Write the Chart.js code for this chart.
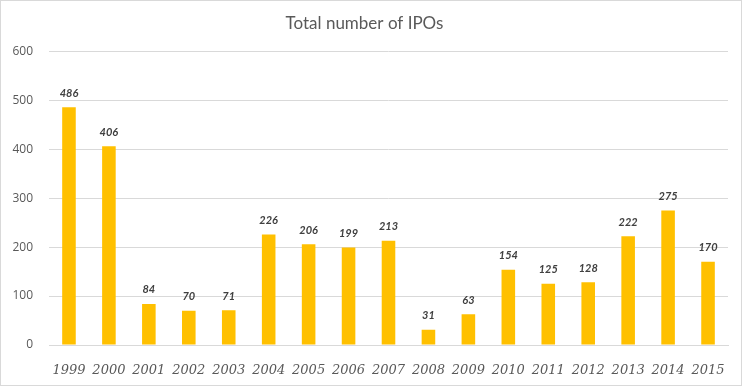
<!DOCTYPE html>
<html>
<head>
<meta charset="utf-8">
<script src="https://cdn.jsdelivr.net/npm/chart.js@4/dist/chart.umd.min.js"></script>
<style>
  body { margin: 0; background: #fff; }
  #wrap { width: 740px; height: 384px; border: 1px solid #d9d9d9; }
</style>
</head>
<body>
<div id="wrap"><canvas id="chart" width="740" height="384"></canvas></div>
<script>
var years = ['1999', '2000', '2001', '2002', '2003', '2004', '2005', '2006', '2007',
             '2008', '2009', '2010', '2011', '2012', '2013', '2014', '2015'];
var ipoCounts = [486, 406, 84, 70, 71, 226, 206, 199, 213, 31, 63, 154, 125, 128, 222, 275, 170];
var yTicks = [0, 100, 200, 300, 400, 500, 600];

// labels on top of the bars
var barLabels = {
    id: 'barLabels',
    afterDatasetsDraw: function (chart) {
        var ctx = chart.ctx;
        var meta = chart.getDatasetMeta(0);
        ctx.save();
        ctx.font = 'italic bold 11px Lato, "Open Sans", sans-serif';
        ctx.fillStyle = '#404040';
        ctx.textAlign = 'center';
        ctx.textBaseline = 'middle';
        meta.data.forEach(function (bar, i) {
            ctx.fillText(ipoCounts[i], bar.x, bar.y - 14);
        });
        ctx.restore();
    }
};

var ctx = document.getElementById('chart');
var chart = new Chart(ctx, {
    type: 'bar',
    data: {
        labels: years,
        datasets: [{
            data: ipoCounts,
            backgroundColor: '#FFC000',
            barPercentage: 0.68,
            categoryPercentage: 0.5
        }]
    },
    options: {
        responsive: false,
        animation: false,
        layout: { padding: { left: 0, right: 13, top: 0, bottom: 0 } },
        plugins: {
            legend: { display: false },
            tooltip: { enabled: false },
            title: {
                display: true,
                text: 'Total number of IPOs',
                color: '#595959',
                font: { family: 'Lato, "Open Sans", sans-serif', size: 17, weight: 'normal' },
                padding: { top: 12, bottom: 18 }
            }
        },
        scales: {
            x: {
                grid: { display: false },
                border: { color: '#d9d9d9' },
                ticks: {
                    color: '#595959',
                    padding: 10,
                    font: { family: '"DejaVu Serif", serif', size: 13, style: 'italic' }
                },
                afterFit: function (scale) { scale.height = 40; }
            },
            y: {
                min: 0,
                max: 600,
                afterBuildTicks: function (scale) {
                    scale.ticks = yTicks.map(function (v) { return { value: v }; });
                },
                grid: { color: '#d9d9d9', drawTicks: false },
                border: { display: false },
                ticks: {
                    color: '#595959',
                    padding: 16,
                    font: { family: '"Open Sans", sans-serif', size: 12 }
                },
                afterFit: function (scale) { scale.width = 48; }
            }
        }
    },
    plugins: [barLabels]
});
</script>
</body>
</html>
